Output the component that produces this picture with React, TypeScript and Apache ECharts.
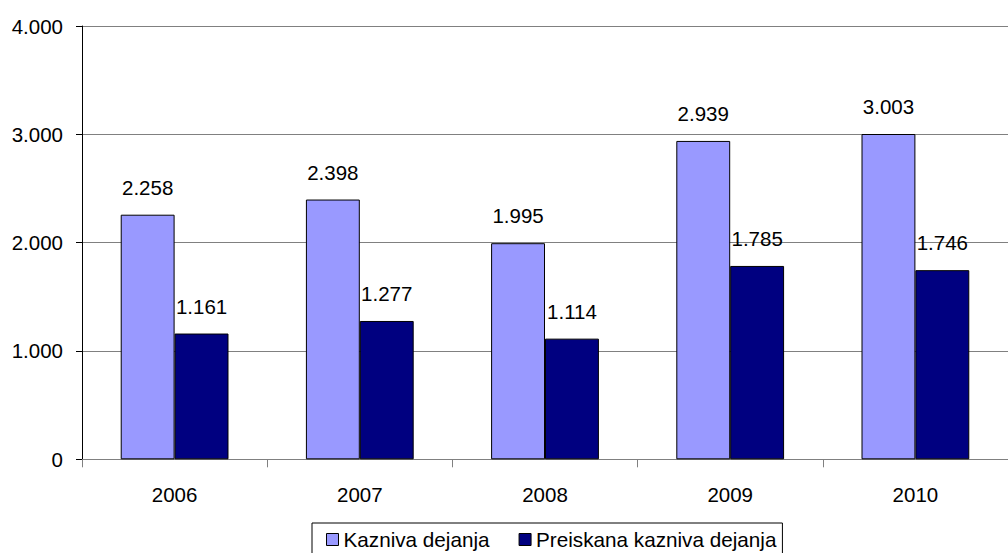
import React, { useEffect, useRef } from "react";
import * as echarts from "echarts";

const categories = ["2006", "2007", "2008", "2009", "2010"];
const seriesNames = ["Kazniva dejanja", "Preiskana kazniva dejanja"];
const kaznivaDejanja = [2258, 2398, 1995, 2939, 3003];
const preiskanaDejanja = [1161, 1277, 1114, 1785, 1746];
const yTicks = [0, 1000, 2000, 3000, 4000];

const FONT = "'Liberation Sans', Arial, sans-serif";

const fmt = (v: number) => {
  if (v === 0) return "0";
  const s = String(Math.round(v));
  return s.replace(/\B(?=(\d{3})+(?!\d))/g, ".");
};

export default function App() {
  const ref = useRef<HTMLDivElement>(null);
  useEffect(() => {
    if (!ref.current) return;
    const chart = echarts.init(ref.current, null, { renderer: "svg" });
    const labelCfg = {
      show: true,
      position: "top" as const,
      distance: 17,
      color: "#000",
      fontSize: 20.5,
      fontFamily: FONT,
      formatter: (p: any) => fmt(p.value),
    };
    chart.setOption({
      animation: false,
      backgroundColor: "#fff",
      grid: { left: 82, top: 26, width: 936.5, height: 433.3 },
      legend: {
        data: seriesNames,
        orient: "horizontal",
        left: 312,
        top: 523,
        itemWidth: 12,
        itemHeight: 12,
        itemGap: 29,
        icon: "rect",
        borderColor: "#000",
        borderWidth: 1,
        borderRadius: 0,
        padding: [6, 6, 12, 14],
        itemStyle: { borderColor: "#000", borderWidth: 1 },
        textStyle: { fontSize: 20.7, fontFamily: FONT, color: "#000" },
      },
      xAxis: {
        type: "category",
        data: categories,
        axisLine: { lineStyle: { color: "#808080", width: 1 } },
        axisTick: { show: true, length: 8, lineStyle: { color: "#808080" } },
        axisLabel: { fontSize: 20.5, fontFamily: FONT, color: "#000", margin: 25 },
      },
      yAxis: {
        type: "value",
        min: yTicks[0],
        max: yTicks[yTicks.length - 1],
        interval: 1000,
        axisLine: { show: true, lineStyle: { color: "#000", width: 1 } },
        axisTick: { show: true, length: 6, lineStyle: { color: "#000" } },
        axisLabel: { fontSize: 20.5, fontFamily: FONT, color: "#000", margin: 19, formatter: (v: number) => fmt(v) },
        splitLine: { show: true, lineStyle: { color: "#808080", width: 1 } },
      },
      series: [
        {
          name: seriesNames[0],
          type: "bar",
          data: kaznivaDejanja,
          barGap: "0%",
          barCategoryGap: "41.8%",
          itemStyle: { color: "#9999FF", borderColor: "#000", borderWidth: 1 },
          label: labelCfg,
        },
        {
          name: seriesNames[1],
          type: "bar",
          data: preiskanaDejanja,
          barGap: "0%",
          barCategoryGap: "41.8%",
          itemStyle: { color: "#000080", borderColor: "#000", borderWidth: 1 },
          label: labelCfg,
        },
      ],
    });
    return () => chart.dispose();
  }, []);
  return (
    <div
      ref={ref}
      style={{ position: "fixed", left: 0, top: 0, width: 1008, height: 553, background: "#fff" }}
    />
  );
}
